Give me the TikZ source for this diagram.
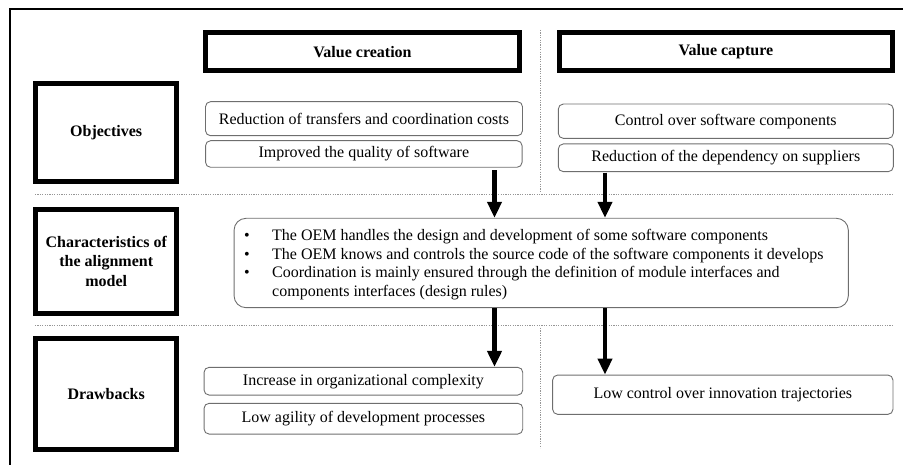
\documentclass[tikz,border=0pt]{standalone}
\usepackage{fontspec}
\setmainfont{Liberation Serif}
\usetikzlibrary{arrows.meta}
\definecolor{boxgray}{RGB}{110,110,110}
\definecolor{dotgray}{RGB}{150,150,150}
\begin{document}
\begin{tikzpicture}[x=1pt,y=-1pt,
  thickbox/.style={draw=black,line width=5pt,inner sep=0pt,align=center,font=\fontsize{16}{19.5}\selectfont\bfseries},
  softbox/.style={draw=boxgray,line width=0.9pt,rounded corners=5pt,inner sep=0pt,align=center,font=\fontsize{16}{18.7}\selectfont},
  bigarrow/.style={line width=4.5pt,-{Triangle[length=16pt,width=14pt]}},
  sep/.style={draw=dotgray,line width=0.8pt,dash pattern=on 1.2pt off 1.2pt}]
\useasboundingbox (0,0) rectangle (903,465);
% outer frame (top and left)
\draw[line width=2pt] (10,465) -- (10,9) -- (903,9);
% separators
\draw[sep] (540,30) -- (540,192);
\draw[sep] (540,328) -- (540,448);
\draw[sep] (35,194) -- (893,194);
\draw[sep] (35,325) -- (893,325);
% column headers
\node[thickbox,minimum width=313.5pt,minimum height=38.3pt] (vcr) at (362.5,51.6) {Value creation};
\node[thickbox,minimum width=333.3pt,minimum height=38.3pt] (vca) at (725.9,51.6) {Value capture};
% row headers
\node[thickbox,minimum width=140.7pt,minimum height=98.2pt] (obj) at (106.2,132.6) {Objectives};
\node[thickbox,minimum width=140.7pt,minimum height=104pt] (cha) at (106.2,261.2) {Characteristics of\\the alignment\\model};
\node[thickbox,minimum width=140.7pt,minimum height=111.6pt] (dra) at (106.2,394) {Drawbacks};
% objectives
\node[softbox,minimum width=317pt,minimum height=34pt] (A1) at (364,118.7) {Reduction of transfers and coordination costs};
\node[softbox,minimum width=316.5pt,minimum height=26.6pt] (A2) at (363.8,154) {Improved the quality of software};
\node[softbox,minimum width=335pt,minimum height=34.3pt] (B1) at (725.8,121.2) {Control over software components};
\node[softbox,minimum width=335pt,minimum height=27.7pt] (B2) at (725.8,157.8) {Reduction of the dependency on suppliers};
% characteristics
\node[softbox,rounded corners=12pt,minimum width=614.3pt,minimum height=89.4pt] (C) at (541.2,263) {};
\node[anchor=west,align=left,inner sep=0pt,font=\fontsize{16}{18.7}\selectfont] (Ct) at (244,264.5) {%
\makebox[28pt][l]{\textbullet}The OEM handles the design and development of some software components\\
\makebox[28pt][l]{\textbullet}The OEM knows and controls the source code of the software components it develops\\
\makebox[28pt][l]{\textbullet}Coordination is mainly ensured through the definition of module interfaces and\\
\hspace*{28pt}components interfaces (design rules)};
% drawbacks
\node[softbox,minimum width=318.7pt,minimum height=27.7pt] (D1) at (363.4,381.2) {Increase in organizational complexity};
\node[softbox,minimum width=318.7pt,minimum height=30.7pt] (D2) at (363.4,418.7) {Low agility of development processes};
\node[softbox,minimum width=340.3pt,minimum height=39.3pt] (E) at (722.8,394.7) {Low control over innovation trajectories};
% arrows
\coordinate (xl) at (494.5,0);
\coordinate (xr) at (605,0);
\draw[bigarrow,shorten <=2.5pt] (A2.south -| xl) -- (C.north -| xl);
\draw[bigarrow,shorten <=0.5pt] (B2.south -| xr) -- (C.north -| xr);
\draw[bigarrow] (C.south -| xl) -- (D1.north -| xl);
\draw[bigarrow] (C.south -| xr) -- (E.north -| xr);
\end{tikzpicture}
\end{document}
